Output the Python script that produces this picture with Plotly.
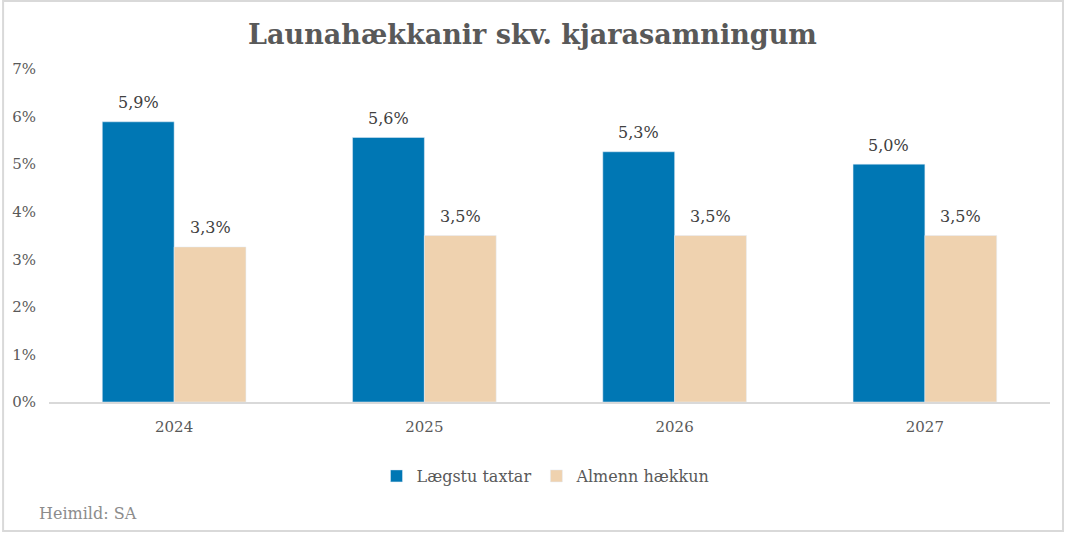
import plotly.graph_objects as go

years = ["2024", "2025", "2026", "2027"]
laegstu = [0.0589, 0.0556, 0.0526, 0.0500]
almenn = [0.0326, 0.0350, 0.0350, 0.0350]
series_names = ["Lægstu taxtar", "Almenn hækkun"]
title_text = "Launahækkanir skv. kjarasamningum"
source_text = "Heimild: SA"

FONT = "Georgia, 'DejaVu Serif', serif"
BLUE = "#0077B4"
BEIGE = "#EFD2AF"

W, H = 1065, 533
ML, MR, MT, MB = 47, 15, 69, 131
PW, PH = W - ML - MR, H - MT - MB
BARGAP = 0.426
HALF_BAR_PX = (1 - BARGAP) * PW / len(years) / 4

fig = go.Figure()
fig.add_trace(go.Bar(x=years, y=laegstu, name=series_names[0], marker_color=BLUE))
fig.add_trace(go.Bar(x=years, y=almenn, name=series_names[1], marker_color=BEIGE))

def px_x(p):
    return (p - ML) / PW

def px_y(p):
    return (H - MB - p) / PH

annots = []
for vals, sh in ((laegstu, -HALF_BAR_PX), (almenn, HALF_BAR_PX)):
    for i, v in enumerate(vals):
        annots.append(dict(x=i, y=v, xref="x", yref="y",
                           text=f"{round(v * 1000) / 10:.1f}%".replace(".", ","),
                           showarrow=False, xshift=sh, yshift=19, yanchor="middle",
                           font=dict(family=FONT, size=16, color="#404040")))
annots.append(dict(text=source_text, xref="paper", yref="paper",
                   x=px_x(35), y=px_y(513), xanchor="left", yanchor="middle",
                   showarrow=False,
                   font=dict(family=FONT, size=16, color="#8C8C8C")))

fig.update_layout(
    width=W, height=H,
    margin=dict(l=ML, r=MR, t=MT, b=MB),
    paper_bgcolor="white", plot_bgcolor="white",
    separators=",.",
    barmode="group", bargap=BARGAP, bargroupgap=0,
    font=dict(family=FONT, size=16, color="#595959"),
    title=dict(text="<b>" + title_text + "</b>", x=0.5, xanchor="center",
               y=1 - 35 / H, yanchor="middle",
               font=dict(family=FONT, size=27, color="#595959")),
    showlegend=True,
    legend=dict(orientation="h", x=px_x(545), xanchor="center",
                y=px_y(476), yanchor="middle",
                font=dict(family=FONT, size=16, color="#595959"),
                tracegroupgap=0),
    xaxis=dict(type="category", range=[-0.5, len(years) - 0.5],
               showline=True, linecolor="#D9D9D9", linewidth=2,
               showgrid=False, ticks="", ticklabelstandoff=10,
               tickfont=dict(family=FONT, size=15, color="#595959")),
    yaxis=dict(range=[0, 0.07], dtick=0.01, tickformat=".0%",
               showgrid=False, zeroline=False, showline=False, ticks="",
               ticklabelstandoff=12,
               tickfont=dict(family=FONT, size=15, color="#595959")),
    annotations=annots,
    shapes=[dict(type="rect", xref="paper", yref="paper",
                 x0=px_x(1), x1=px_x(1063), y0=px_y(531), y1=px_y(1),
                 line=dict(color="#D9D9D9", width=2), fillcolor="rgba(0,0,0,0)",
                 layer="below")],
)

fig.write_html("out.html", config={"displayModeBar": False},
               post_script="document.body.style.margin='0';document.body.style.overflow='hidden';")
